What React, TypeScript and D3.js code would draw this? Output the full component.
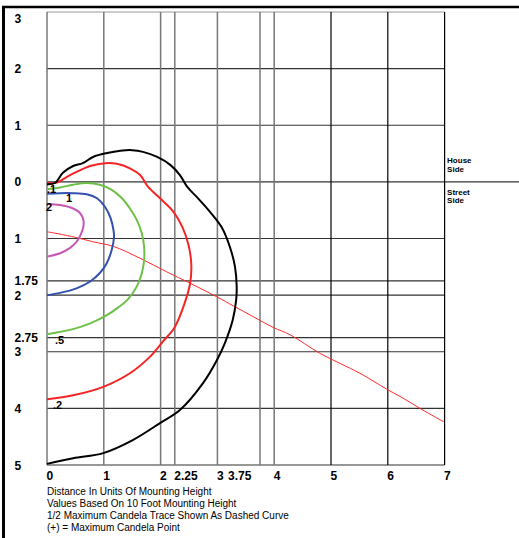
import React, { useEffect, useRef } from "react";
import * as d3 from "d3";

// axis ticks (units of mounting height)
const xTicks = [0, 1, 2, 2.25, 3, 3.75, 4, 5, 6, 7];
const yTicks = [3, 2, 1, 0, -1, -1.75, -2, -2.75, -3, -4, -5];

// iso-footcandle contours, [distance, lateral] (negative = street side)
const contour01 = [
  [0, -0.04], [0.14, -0.02], [0.28, 0.16], [0.46, 0.28], [0.63, 0.33], [0.81, 0.44],
  [1.06, 0.51], [1.29, 0.55], [1.5, 0.56], [1.69, 0.53], [1.94, 0.44], [2.17, 0.3],
  [2.34, 0.12], [2.47, -0.09], [2.64, -0.27], [2.87, -0.53], [3.08, -0.81], [3.22, -1.15],
  [3.31, -1.5], [3.34, -1.86], [3.33, -2.09], [3.27, -2.44], [3.13, -2.85], [2.99, -3.15],
  [2.75, -3.55], [2.34, -4.03], [1.99, -4.26], [1.51, -4.56], [0.99, -4.79], [0.46, -4.88],
  [0, -4.98],
];
const contour02 = [
  [0, -0.02], [0.18, -0.01], [0.35, 0.09], [0.53, 0.18], [0.76, 0.28], [1.02, 0.33],
  [1.23, 0.32], [1.46, 0.24], [1.64, 0.12], [1.78, -0.09], [1.99, -0.29], [2.22, -0.52],
  [2.38, -0.79], [2.49, -1.11], [2.54, -1.45], [2.52, -1.79], [2.41, -2.18], [2.24, -2.58],
  [2.04, -2.82], [1.81, -3.09], [1.46, -3.38], [0.99, -3.62], [0.46, -3.77], [0, -3.84],
];
const contour05 = [
  [0, -0.13], [0.23, -0.1], [0.46, -0.05], [0.7, -0.02], [0.93, -0.05], [1.14, -0.14],
  [1.32, -0.29], [1.46, -0.47], [1.58, -0.67], [1.67, -0.91], [1.71, -1.15], [1.71, -1.38],
  [1.67, -1.61], [1.58, -1.85], [1.42, -2.08], [1.25, -2.22], [1.06, -2.35], [0.76, -2.5],
  [0.46, -2.6], [0, -2.69],
];
const contour1 = [
  [0, -0.21], [0.23, -0.2], [0.46, -0.2], [0.7, -0.22], [0.88, -0.29], [1.02, -0.44],
  [1.12, -0.64], [1.17, -0.85], [1.18, -0.97], [1.14, -1.2], [1.05, -1.44], [0.93, -1.61],
  [0.76, -1.76], [0.52, -1.88], [0.23, -1.96], [0, -2.0],
];
const contour2 = [
  [0, -0.39], [0.23, -0.41], [0.46, -0.47], [0.58, -0.55], [0.64, -0.67], [0.64, -0.79],
  [0.59, -0.94], [0.52, -1.06], [0.4, -1.17], [0.23, -1.26], [0, -1.32],
];
// half maximum candela trace
const halfMaxTrace = [
  [0, -0.88], [0.46, -0.97], [0.82, -1.06], [1.17, -1.14], [1.64, -1.35], [2.11, -1.59],
  [2.52, -1.79], [2.99, -2.03], [3.28, -2.19], [3.63, -2.38], [3.98, -2.57], [4.28, -2.7],
  [4.81, -3.03], [5.51, -3.38], [5.98, -3.66], [6.27, -3.82], [6.6, -4.02], [6.99, -4.24],
];

const notes = [
  "Distance In Units Of Mounting Height",
  "Values Based On 10 Foot Mounting Height",
  "1/2 Maximum Candela Trace Shown As Dashed Curve",
  "(+) = Maximum Candela Point",
];

const FONT = "'Liberation Sans', Arial, sans-serif";

export default function App() {
  const ref = useRef<SVGSVGElement>(null);

  useEffect(() => {
    const width = 519;
    const height = 538;
    const svg = d3.select(ref.current);
    svg.selectAll("*").remove();

    const x = d3.scaleLinear().domain([0, 7]).range([47, 444.6]);
    const y = d3.scaleLinear().domain([3, -5]).range([12, 465]);

    // frame
    svg.append("line")
      .attr("x1", 2).attr("x2", width).attr("y1", 7).attr("y2", 7)
      .attr("stroke", "#000").attr("stroke-width", 2.5);
    svg.append("line")
      .attr("x1", 3.5).attr("x2", 3.5).attr("y1", 6).attr("y2", height)
      .attr("stroke", "#000").attr("stroke-width", 3);

    // horizontal grid
    svg.selectAll(".hgrid")
      .data(yTicks)
      .enter()
      .append("line")
      .attr("x1", x(0))
      .attr("x2", (d) => (d === 0 ? width : x(7)))
      .attr("y1", (d) => y(d))
      .attr("y2", (d) => y(d))
      .attr("stroke", (d) => (d === 3 ? "#999" : "#333"))
      .attr("stroke-width", 1.2);

    // vertical grid
    svg.selectAll(".vgrid")
      .data(xTicks)
      .enter()
      .append("line")
      .attr("x1", (d) => x(d))
      .attr("x2", (d) => x(d))
      .attr("y1", y(3))
      .attr("y2", y(-5))
      .attr("stroke", (d) => (d <= 4 ? "#777" : "#000"))
      .attr("stroke-width", (d) => (d <= 4 ? 1.5 : 1.2));

    // y labels (absolute distance)
    svg.selectAll(".ylab")
      .data(yTicks)
      .enter()
      .append("text")
      .attr("x", 14.5)
      .attr("y", (d) => (d === 3 ? y(d) + 10.5 : y(d) + 4.5))
      .attr("font-family", FONT)
      .attr("font-weight", "bold")
      .attr("font-size", 12)
      .text((d) => String(Math.abs(d)));

    // x labels
    svg.selectAll(".xlab")
      .data(xTicks)
      .enter()
      .append("text")
      .attr("x", (d) => (d === 3.75 ? x(d) - 32 : x(d) - 0.5))
      .attr("y", 480)
      .attr("font-family", FONT)
      .attr("font-weight", "bold")
      .attr("font-size", 12)
      .text((d) => String(d));

    // house / street side
    const sides = [["House", "Side"], ["Street", "Side"]];
    sides.forEach((words, i) => {
      words.forEach((w, j) => {
        svg.append("text")
          .attr("x", x(7) + 2.5)
          .attr("y", y(0) + (i === 0 ? -18.5 : 13) + j * 8.5)
          .attr("font-family", FONT)
          .attr("font-weight", "bold")
          .attr("font-size", 8)
          .text(w);
      });
    });

    const line = d3.line<number[]>()
      .x((d) => x(d[0]))
      .y((d) => y(d[1]))
      .curve(d3.curveCatmullRom);

    // half max trace (thin)
    svg.append("path")
      .attr("d", line(halfMaxTrace))
      .attr("fill", "none")
      .attr("stroke", "#ff2a2a")
      .attr("stroke-width", 1);

    const contours = [
      { data: contour2, color: "#c458b4" },
      { data: contour1, color: "#3350b0" },
      { data: contour05, color: "#6cc046" },
      { data: contour02, color: "#f52525" },
      { data: contour01, color: "#000000" },
    ];
    svg.selectAll(".contour")
      .data(contours)
      .enter()
      .append("path")
      .attr("d", (d) => line(d.data))
      .attr("fill", "none")
      .attr("stroke", (d) => d.color)
      .attr("stroke-width", 2);

    // contour value labels, placed off the end of each curve
    const labels = [
      { text: ".1", pt: contour01[0], dx: 0, dy: 8.5 },
      { text: "1", pt: contour1[0], dx: 19, dy: 8 },
      { text: "2", pt: contour2[0], dx: -1, dy: 7.5 },
      { text: ".5", pt: contour05[contour05.length - 1], dx: 8, dy: 10 },
      { text: ".2", pt: contour02[contour02.length - 1], dx: 6, dy: 9.5 },
    ];
    svg.selectAll(".clab")
      .data(labels)
      .enter()
      .append("text")
      .attr("x", (d) => x(d.pt[0]) + d.dx)
      .attr("y", (d) => y(d.pt[1]) + d.dy)
      .attr("font-family", FONT)
      .attr("font-weight", "bold")
      .attr("font-size", 11)
      .text((d) => d.text);

    // footnotes
    svg.selectAll(".note")
      .data(notes)
      .enter()
      .append("text")
      .attr("x", x(0))
      .attr("y", (d, i) => 494.5 + i * 12.3)
      .attr("font-family", FONT)
      .attr("font-size", 10)
      .attr("fill", "#000")
      .text((d) => d);
  }, []);

  return (
    <div style={{ position: "absolute", left: 0, top: 0 }}>
      <svg ref={ref} width={519} height={538} style={{ display: "block", background: "#fff" }} />
    </div>
  );
}
